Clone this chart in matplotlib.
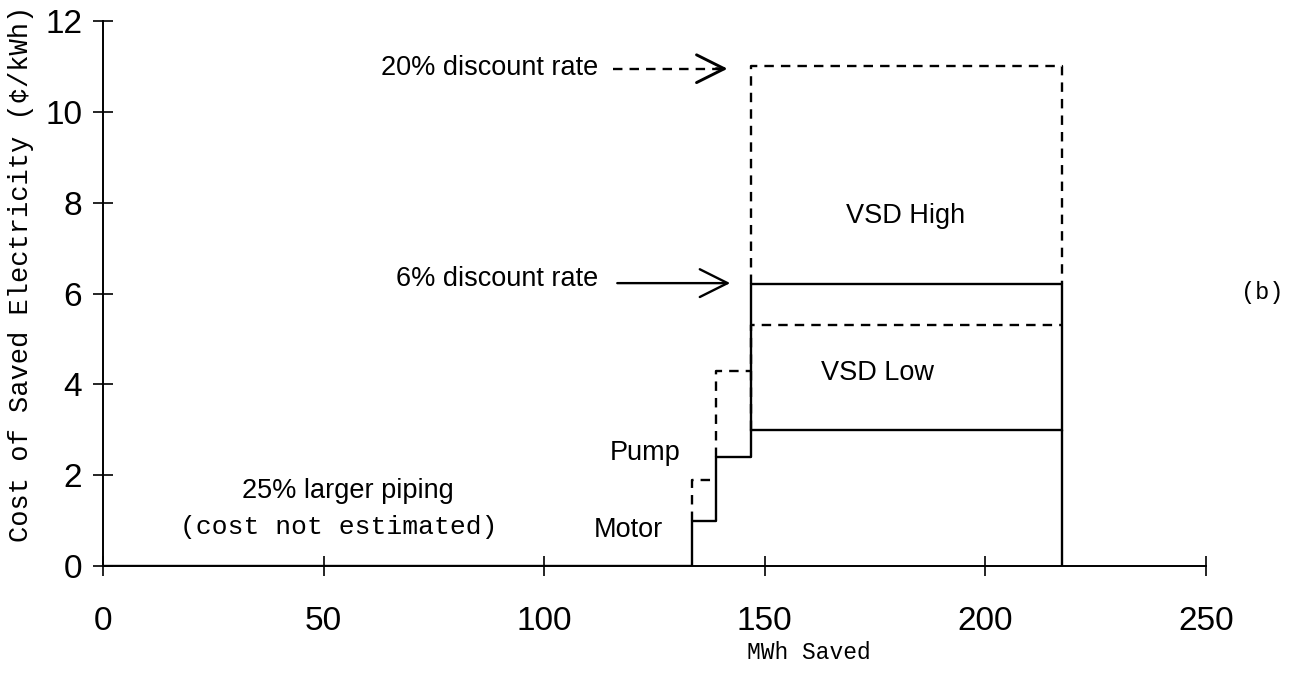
import matplotlib
matplotlib.use("Agg")
import matplotlib.pyplot as plt

SANS = "Liberation Sans"
MONO = "Liberation Mono"

# conservation measures, stacked along the MWh axis
measures = ["Motor", "Pump", "VSD Low", "VSD High"]
mwh_start = [133.5, 139.0, 147.0, 147.0]
mwh_end = [139.0, 147.0, 217.5, 217.5]
cse_6pct = [1.0, 2.4, 3.0, 6.2]     # cents/kWh at 6% discount rate
cse_20pct = [1.9, 4.3, 5.3, 11.0]   # cents/kWh at 20% discount rate

x_ticks = [0, 50, 100, 150, 200, 250]
y_ticks = [0, 2, 4, 6, 8, 10, 12]

LW = 1.7
DASH = (0, (4, 3))
TXT = 19.5

fig = plt.figure(figsize=(12.97, 6.78), dpi=100)
ax = fig.add_axes([0.0794, 0.165, 0.8502, 0.804])

# solid 6% curve: flat at zero, then motor / pump / VSD low steps
xs = [0] + mwh_start[:3] + [mwh_end[2], mwh_end[2]]
ys = [0] + cse_6pct[:3] + [cse_6pct[2], 0]
ax.plot(xs, ys, drawstyle="steps-post", color="black", lw=LW)

# VSD high box on top (6%)
ax.plot([mwh_start[3], mwh_start[3], mwh_end[3], mwh_end[3]],
        [cse_6pct[2], cse_6pct[3], cse_6pct[3], cse_6pct[2]],
        color="black", lw=LW)

# dashed 20% levels
for i in range(3):
    ax.plot([mwh_start[i], mwh_start[i], mwh_end[i]],
            [cse_6pct[i], cse_20pct[i], cse_20pct[i]],
            color="black", lw=LW, linestyle=DASH)
ax.plot([mwh_start[3], mwh_start[3], mwh_end[3], mwh_end[3]],
        [cse_6pct[3], cse_20pct[3], cse_20pct[3], cse_6pct[3]],
        color="black", lw=LW, linestyle=DASH)

# labels inside the chart
ax.text(182, 7.7, "VSD High", fontsize=TXT, family=SANS, ha="center", va="center")
ax.text(175.5, 4.25, "VSD Low", fontsize=TXT, family=SANS, ha="center", va="center")
ax.text(131, 2.5, "Pump", fontsize=TXT, family=SANS, ha="right", va="center")
ax.text(127, 0.8, "Motor", fontsize=TXT, family=SANS, ha="right", va="center")
ax.text(55.5, 1.65, "25% larger piping", fontsize=TXT, family=SANS, ha="center", va="center")
ax.text(53.5, 0.86, "(cost not estimated)", fontsize=19, family=MONO, ha="center", va="center")

# discount-rate arrows
head = dict(arrowstyle="->,head_length=1.0,head_width=0.5", mutation_scale=20,
            lw=LW + 0.4, color="black", shrinkA=0, shrinkB=0)
ax.text(112.3, 10.97, "20% discount rate", fontsize=TXT, family=SANS, ha="right", va="center")
ax.plot([115.7, 139.5], [10.95, 10.95], color="black", lw=LW, linestyle=DASH)
ax.annotate("", xy=(141.6, 10.95), xytext=(139.0, 10.95), arrowprops=head)

ax.text(112.3, 6.32, "6% discount rate", fontsize=TXT, family=SANS, ha="right", va="center")
ax.annotate("", xy=(142.2, 6.23), xytext=(116.6, 6.23),
            arrowprops=dict(head, lw=LW))

ax.set_xlim(0, 250)
ax.set_ylim(0, 12)
ax.set_xticks(x_ticks)
ax.set_yticks(y_ticks)
ax.spines["top"].set_visible(False)
ax.spines["right"].set_visible(False)
for s in ("left", "bottom"):
    ax.spines[s].set_linewidth(1.4)
ax.tick_params(axis="both", direction="inout", length=14, width=1.2)
ax.tick_params(axis="x", pad=22, labelsize=24)
ax.tick_params(axis="y", pad=8, labelsize=24)
for lab in ax.get_xticklabels() + ax.get_yticklabels():
    lab.set_family(SANS)

ax.set_xlabel("MWh Saved", fontsize=16.5, family=MONO)
ax.xaxis.set_label_coords(0.64, -0.138)
ax.set_ylabel("Cost of Saved Electricity (\u00a2/kWh)", fontsize=19.5, family=MONO)
ax.yaxis.set_label_coords(-0.063, 0.537)

fig.text(1262 / 1297, 1 - 292 / 678, "(b)", fontsize=17, family=MONO, ha="center", va="center")

fig.savefig("out.png", dpi=100)
